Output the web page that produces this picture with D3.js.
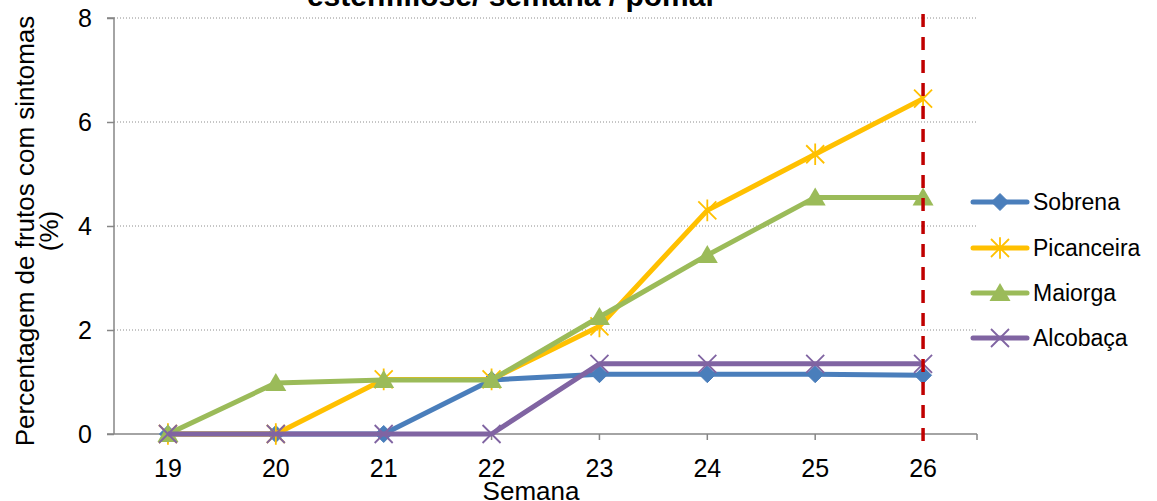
<!DOCTYPE html>
<html>
<head>
<meta charset="utf-8">
<script src="https://cdn.jsdelivr.net/npm/d3@7"></script>
<style>
html,body{margin:0;padding:0;background:#fff;overflow:hidden;}
svg text{font-family:"Liberation Sans",Arial,sans-serif;}
</style>
</head>
<body>
<svg id="chart" width="1157" height="501"></svg>
<script>
const weeks = ["19","20","21","22","23","24","25","26"];
const sobrena    = [0, 0, 0, 1.04, 1.15, 1.15, 1.15, 1.13];
const picanceira = [0, 0, 1.05, 1.05, 2.07, 4.30, 5.38, 6.45];
const maiorga    = [0, 0.98, 1.04, 1.04, 2.25, 3.44, 4.55, 4.55];
const alcobaca   = [0, 0, 0, 0, 1.35, 1.35, 1.35, 1.35];
const yTicks = [0, 2, 4, 6, 8];
const seriesNames = ["Sobrena", "Picanceira", "Maiorga", "Alcobaça"];
const markedWeek = "26";

const series = [
  {name: seriesNames[0], values: sobrena,    color: "#4A7EBB", marker: "diamond"},
  {name: seriesNames[1], values: picanceira, color: "#FFC000", marker: "star"},
  {name: seriesNames[2], values: maiorga,    color: "#9BBB59", marker: "triangle"},
  {name: seriesNames[3], values: alcobaca,   color: "#8064A2", marker: "x"}
];

const svg = d3.select("#chart");
const L = 114, R = 977, T = 18, B = 434;
const x = d3.scaleBand().domain(weeks).range([L, R]);
const y = d3.scaleLinear().domain([0, 8]).range([B, T]);
const cx = d => x(d) + x.bandwidth() / 2;

// gridlines
svg.append("g").selectAll("line").data(yTicks.filter(t => t > 0)).join("line")
  .attr("x1", L).attr("x2", R).attr("y1", d => y(d)).attr("y2", d => y(d))
  .attr("stroke", "#8c8c8c").attr("stroke-width", 1).attr("stroke-dasharray", "1,2");

// y axis
const yAxis = d3.axisLeft(y).tickValues(yTicks).tickSize(7).tickPadding(15).tickFormat(d3.format("d"));
const gy = svg.append("g").attr("transform", `translate(${L},0)`).call(yAxis);
gy.select(".domain").attr("stroke", "#868686").attr("stroke-width", 1.5).attr("d", `M-7,${T}H0V${B}`);
gy.selectAll(".tick line").attr("stroke", "#868686").attr("stroke-width", 1.5);
gy.selectAll(".tick text").attr("font-size", 25).attr("fill", "#000").attr("font-family", "Liberation Sans, Arial, sans-serif");

// x axis
const gx = svg.append("g").attr("transform", `translate(0,${B})`);
gx.append("line").attr("x1", L - 7).attr("x2", R).attr("y1", 0).attr("y2", 0)
  .attr("stroke", "#868686").attr("stroke-width", 1.5);
const tickPos = weeks.map(cx).concat([R]);
gx.selectAll("line.tk").data(tickPos).join("line").attr("class", "tk")
  .attr("x1", d => d).attr("x2", d => d).attr("y1", 0).attr("y2", 6)
  .attr("stroke", "#868686").attr("stroke-width", 1.5);
gx.selectAll("text").data(weeks).join("text")
  .attr("x", d => cx(d)).attr("y", 43).attr("text-anchor", "middle")
  .attr("font-size", 25).text(d => d);

// axis titles
svg.append("text").attr("x", 531).attr("y", 500).attr("text-anchor", "middle")
  .attr("font-size", 26).text("Semana");
const yl = svg.append("text").attr("transform", "translate(0,231) rotate(-90)")
  .attr("text-anchor", "middle").attr("font-size", 26);
yl.append("tspan").attr("x", 0).attr("y", 34).text("Percentagem de frutos com sintomas");
yl.append("tspan").attr("x", 0).attr("y", 58).text("(%)");

// title (second line visible at top)
svg.append("text").attr("x", 512).attr("y", 6).attr("text-anchor", "middle")
  .attr("font-size", 30).attr("font-weight", "bold").text("estenfiliose/ semana / pomar");

// marker drawing
function drawMarker(g, type, color, px, py, s) {
  if (type === "diamond") {
    g.append("path").attr("d", `M${px},${py - s}L${px + s},${py}L${px},${py + s}L${px - s},${py}Z`)
      .attr("fill", color).attr("stroke", color).attr("stroke-width", 1);
  } else if (type === "triangle") {
    g.append("path").attr("d", `M${px},${py - s}L${px + s * 1.05},${py + s * 0.8}L${px - s * 1.05},${py + s * 0.8}Z`)
      .attr("fill", color);
  } else if (type === "star") {
    const r = s;
    g.append("path").attr("d",
      `M${px - r},${py - r}L${px + r},${py + r}M${px - r},${py + r}L${px + r},${py - r}M${px},${py - r * 1.2}L${px},${py + r * 1.2}`)
      .attr("stroke", color).attr("stroke-width", 1.8).attr("fill", "none");
  } else if (type === "x") {
    const r = s;
    g.append("path").attr("d", `M${px - r},${py - r}L${px + r},${py + r}M${px - r},${py + r}L${px + r},${py - r}`)
      .attr("stroke", color).attr("stroke-width", 1.8).attr("fill", "none");
  }
}

const msize = {diamond: 8.5, triangle: 10, star: 9, x: 9};
const line = d3.line().x(d => cx(d.w)).y(d => y(d.v));
series.forEach(s => {
  const pts = weeks.map((w, i) => ({w, v: s.values[i]}));
  const g = svg.append("g");
  g.append("path").datum(pts).attr("d", line).attr("fill", "none")
    .attr("stroke", s.color).attr("stroke-width", 5).attr("stroke-linejoin", "round");
  pts.forEach(p => drawMarker(g, s.marker, s.color, cx(p.w), y(p.v), msize[s.marker]));
});

// red dashed marker line
svg.append("line").attr("x1", cx(markedWeek)).attr("x2", cx(markedWeek))
  .attr("y1", 14).attr("y2", 444)
  .attr("stroke", "#C00000").attr("stroke-width", 3.5).attr("stroke-dasharray", "13,10");

// legend
const legY = [202, 248, 293, 338];
const lg = svg.append("g");
series.forEach((s, i) => {
  lg.append("line").attr("x1", 973).attr("x2", 1027).attr("y1", legY[i]).attr("y2", legY[i])
    .attr("stroke", s.color).attr("stroke-width", 5).attr("stroke-linecap", "round");
  drawMarker(lg, s.marker, s.color, 1000, legY[i], msize[s.marker]);
  lg.append("text").attr("x", 1033).attr("y", legY[i] + 8).attr("font-size", 23).text(s.name);
});
</script>
</body>
</html>
